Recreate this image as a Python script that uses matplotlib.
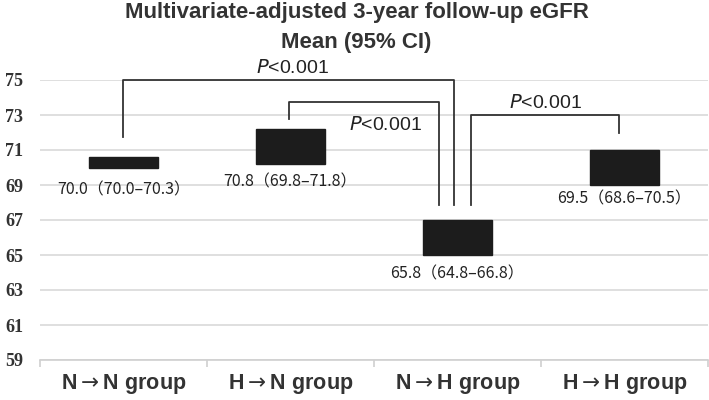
import matplotlib
matplotlib.use("Agg")
import matplotlib.pyplot as plt
from matplotlib.ticker import FixedLocator

groups = [r"N$\rightarrow$N group", r"H$\rightarrow$N group",
          r"N$\rightarrow$H group", r"H$\rightarrow$H group"]
box_low = [70.0, 70.2, 65.0, 69.0]
box_high = [70.6, 72.2, 67.0, 71.0]
box_labels = ["70.0（70.0–70.3）", "70.8（69.8–71.8）", "65.8（64.8–66.8）", "69.5（68.6–70.5）"]
label_drop = [1.3, 1.0, 1.1, 0.8]
yticks = [59, 61, 63, 65, 67, 69, 71, 73, 75]

# brackets: (left x, right x, top y, left bottom y, right bottom y, text x, text y)
brackets = [
    (0.0, 1.98, 75.0, 71.75, 67.85, 1.01, 75.7),
    (0.99, 1.89, 73.75, 72.8, 67.85, 1.57, 72.4),
    (2.08, 2.97, 73.0, 67.85, 71.95, 2.53, 73.7),
]

fig = plt.figure(figsize=(7.09, 4.0), dpi=100)
ax = fig.add_axes([0.0564, 0.1, 0.942, 0.7])

x = range(len(groups))
heights = [h - l for l, h in zip(box_low, box_high)]
ax.bar(x, heights, bottom=box_low, width=0.41, color="#1c1c1c", edgecolor="#1c1c1c", zorder=3)

for i, (lab, lo, d) in enumerate(zip(box_labels, box_low, label_drop)):
    ax.text(i, lo - d, lab, ha="center", va="center", fontsize=11.5,
            family=["Noto Sans CJK JP", "DejaVu Sans"], color="#222222")

for xl, xr, yt, ybl, ybr, tx, ty in brackets:
    ax.plot([xl, xl, xr, xr], [ybl, yt, yt, ybr], color="#333333", lw=1.3,
            clip_on=False, zorder=4)
    ax.text(tx, ty, "$P$<0.001", ha="center", va="center", fontsize=14,
            family="Liberation Sans", color="#222222")

ax.set_xlim(-0.5, 3.5)
ax.set_ylim(59, 75)
ax.set_yticks(yticks)
ax.set_yticklabels([str(v) for v in yticks], family="Liberation Serif",
                   fontweight="bold", fontsize=13, color="#333333")
ax.yaxis.grid(True, color="#d9d9d9", lw=1.2)
ax.set_axisbelow(True)
ax.tick_params(axis="y", length=0, pad=12)

ax.set_xticks(list(x))
ax.set_xticklabels(groups, family=["Liberation Sans", "DejaVu Sans"],
                   fontweight="bold", fontsize=15.5, color="#333333")
ax.tick_params(axis="x", which="major", length=0, pad=9)
ax.xaxis.set_minor_locator(FixedLocator([-0.5, 0.5, 1.5, 2.5, 3.5]))
ax.tick_params(axis="x", which="minor", length=5, color="#d0d0d0", width=1.2)

for s in ["top", "right", "left"]:
    ax.spines[s].set_visible(False)
ax.spines["bottom"].set_color("#d0d0d0")
ax.spines["bottom"].set_linewidth(1.2)

fig.text(0.503, 0.968, "Multivariate-adjusted 3-year follow-up eGFR", ha="center", va="center",
         fontsize=16, fontweight="bold", family="Liberation Sans", color="#333333")
fig.text(0.503, 0.893, "Mean (95% CI)", ha="center", va="center",
         fontsize=16, fontweight="bold", family="Liberation Sans", color="#333333")

fig.savefig("out.png", dpi=100)
